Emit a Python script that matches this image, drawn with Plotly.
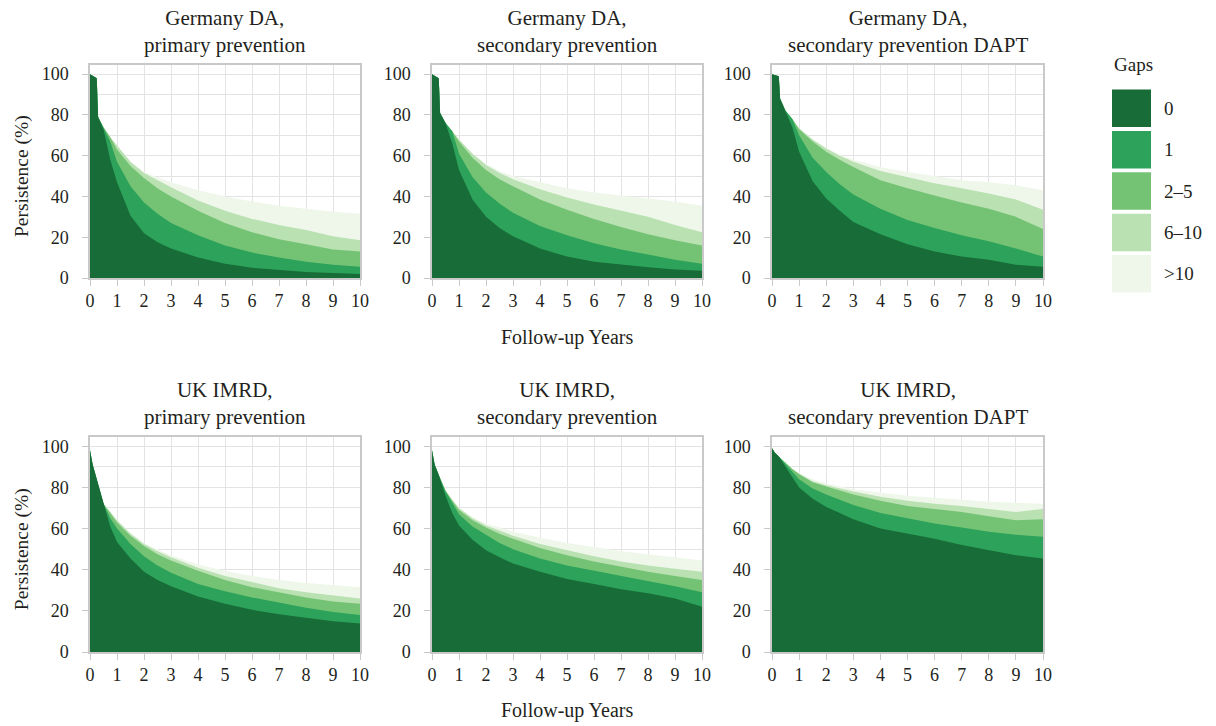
import plotly.graph_objects as go

W, H = 1216, 726
FONT = "'Liberation Serif', 'DejaVu Serif', 'Times New Roman', serif"
TEXT_COLOR = "#231f20"

# ---------------- data ----------------
gap_labels = ["0", "1", "2–5", "6–10", ">10"]
gap_colors = ["#176c37", "#2ca25a", "#74c374", "#b9e1b2", "#eef7ea"]

panel_titles = [
    "Germany DA,<br>primary prevention",
    "Germany DA,<br>secondary prevention",
    "Germany DA,<br>secondary prevention DAPT",
    "UK IMRD,<br>primary prevention",
    "UK IMRD,<br>secondary prevention",
    "UK IMRD,<br>secondary prevention DAPT",
]

years_de = [0, 0.25, 0.3, 0.5, 0.75, 1, 1.5, 2, 2.5, 3, 4, 5, 6, 7, 8, 9, 10]
years_uk = [0, 0.1, 0.25, 0.5, 0.75, 1, 1.5, 2, 2.5, 3, 4, 5, 6, 7, 8, 9, 10]

# persistence (%) allowing up to N gaps (upper boundary of each band)
de_prim_gap0 = [100, 98, 79, 73, 58, 47, 30.5, 22, 17.5, 14.5, 10, 7, 5, 4, 3, 2.5, 2]
de_prim_gap1 = [100, 98, 79, 74, 67, 57, 45, 37, 31.5, 27, 21, 16, 12.5, 10, 8, 6.5, 5.5]
de_prim_gap2_5 = [100, 98, 79, 74, 69, 63, 55, 49, 44, 40, 33, 27, 22.5, 19, 16.5, 14, 13]
de_prim_gap6_10 = [100, 98, 79, 74, 69, 65, 57, 51.5, 48, 44.5, 38, 33, 29, 26, 23.5, 20.5, 18.5]
de_prim_gap10p = [100, 98, 79, 74, 69, 65, 57, 52, 49.5, 47, 43, 40, 37.5, 35.5, 34, 32.5, 31.5]

de_sec_gap0 = [100, 98, 81, 76, 66, 53, 38.5, 30, 24.5, 20.5, 14.5, 10.5, 8, 6.5, 5.3, 4.2, 3.5]
de_sec_gap1 = [100, 98, 81, 76, 72, 61, 49.5, 42, 36.5, 32, 25.5, 21, 17, 14, 11.5, 9, 7]
de_sec_gap2_5 = [100, 98, 81, 76, 72, 67, 59, 53, 48.5, 45, 38.5, 33.5, 29, 25, 21.5, 18.5, 16]
de_sec_gap6_10 = [100, 98, 81, 76, 72, 68, 61, 55.5, 51.5, 48.5, 43.5, 39.5, 36, 33, 30, 26, 22.5]
de_sec_gap10p = [100, 98, 81, 76, 72, 68, 61, 56, 52.5, 50, 47, 44, 42, 40.5, 39, 37.5, 35.5]

de_dapt_gap0 = [100, 99, 88, 82, 74, 62, 47.5, 39, 33, 27.5, 21.5, 16.5, 13, 10.5, 9, 6.5, 5.5]
de_dapt_gap1 = [100, 99, 88, 82, 78, 70, 59, 52, 46, 41, 34, 28.5, 24.5, 21, 18, 14.5, 10.5]
de_dapt_gap2_5 = [100, 99, 88, 82, 78, 73, 67, 62, 58, 54.5, 48, 44, 40.5, 37, 34, 30, 24]
de_dapt_gap6_10 = [100, 99, 88, 82, 78, 73.5, 68, 63.5, 60, 57, 52.5, 49.5, 46.5, 44, 41.5, 38.5, 33.5]
de_dapt_gap10p = [100, 99, 88, 82, 78, 73.5, 68, 64, 60.5, 58, 54.5, 52, 50, 48, 47, 45.5, 43]

uk_prim_gap0 = [98, 91, 84, 72, 61, 53.5, 45.5, 39, 35, 32, 27, 23.5, 20.5, 18.3, 16.5, 15, 13.8]
uk_prim_gap1 = [98, 91, 84, 72, 65, 60, 52.5, 46.5, 42, 38.5, 33, 29.5, 26.5, 24, 21.5, 19.5, 18]
uk_prim_gap2_5 = [98, 91, 84, 72, 67.5, 63, 56.5, 51.5, 47.5, 44.5, 39.5, 35, 31.5, 29, 26.5, 24.5, 23.5]
uk_prim_gap6_10 = [98, 91, 84, 72, 68, 64, 57.5, 52.5, 49, 46, 41, 37, 34, 31, 29, 27.5, 26]
uk_prim_gap10p = [98, 91, 84, 72, 68, 64, 58, 53, 50, 47, 42.5, 39.5, 37, 35, 33.5, 32.5, 31.5]

uk_sec_gap0 = [98, 91, 86, 76, 67.5, 61.5, 54.5, 49.5, 46, 43, 39, 35.5, 33, 30.5, 28.5, 26, 22]
uk_sec_gap1 = [98, 91, 86, 78, 72.5, 67, 61, 57, 53, 50, 45.5, 42, 39.5, 37, 34.5, 32, 29]
uk_sec_gap2_5 = [98, 91, 86, 78.5, 73.5, 69, 64, 60.5, 57.5, 55, 50.5, 47, 44, 41.5, 39, 37, 35]
uk_sec_gap6_10 = [98, 91, 86, 78.5, 74, 70, 65, 61.5, 59, 56.5, 52.5, 49.5, 46.5, 44, 42, 40.5, 39]
uk_sec_gap10p = [98, 91, 86, 78.5, 74, 70, 65.5, 62.5, 60.5, 58.5, 55.5, 53, 51, 49, 47.5, 46, 44.5]

uk_dapt_gap0 = [99, 97, 95, 90, 85, 80, 74.5, 70.5, 67.5, 64.5, 60, 57.5, 55, 52, 49.5, 47, 45.5]
uk_dapt_gap1 = [99, 97, 95, 91.5, 87.5, 84, 79.5, 76.5, 74, 71.5, 67.5, 65, 62.5, 60.5, 58.5, 57, 56]
uk_dapt_gap2_5 = [99, 97, 95, 92, 89, 86.5, 82.5, 80.5, 78.5, 76.5, 73.5, 71, 69.5, 68, 66, 64, 64.5]
uk_dapt_gap6_10 = [99, 97, 95, 92, 89, 86.5, 83, 81, 79.5, 78, 75.5, 73.5, 72, 71, 69.5, 68, 69.5]
uk_dapt_gap10p = [99, 97, 95, 92, 89, 87, 84, 82, 80.5, 79, 77.5, 76, 75, 74, 73, 72.5, 72]

x_ticks = list(range(0, 11))
y_ticks = [0, 20, 40, 60, 80, 100]

panels = [
    (years_de, [de_prim_gap0, de_prim_gap1, de_prim_gap2_5, de_prim_gap6_10, de_prim_gap10p]),
    (years_de, [de_sec_gap0, de_sec_gap1, de_sec_gap2_5, de_sec_gap6_10, de_sec_gap10p]),
    (years_de, [de_dapt_gap0, de_dapt_gap1, de_dapt_gap2_5, de_dapt_gap6_10, de_dapt_gap10p]),
    (years_uk, [uk_prim_gap0, uk_prim_gap1, uk_prim_gap2_5, uk_prim_gap6_10, uk_prim_gap10p]),
    (years_uk, [uk_sec_gap0, uk_sec_gap1, uk_sec_gap2_5, uk_sec_gap6_10, uk_sec_gap10p]),
    (years_uk, [uk_dapt_gap0, uk_dapt_gap1, uk_dapt_gap2_5, uk_dapt_gap6_10, uk_dapt_gap10p]),
]

# ---------------- layout geometry (page pixels) ----------------
col_px = [(90, 360), (432, 702), (772, 1043)]
row_px = [(65, 278), (437, 652)]  # (top, bottom)


def fx(p):
    return p / W


def fy(p):
    return 1 - p / H


fig = go.Figure()

for i, (yrs, curves) in enumerate(panels):
    n = i + 1
    xa = "x" if n == 1 else f"x{n}"
    ya = "y" if n == 1 else f"y{n}"
    for k in reversed(range(len(gap_labels))):
        fig.add_trace(go.Scatter(
            x=yrs, y=curves[k], mode="lines",
            line=dict(width=0, color=gap_colors[k]),
            fill="tozeroy", fillcolor=gap_colors[k],
            xaxis=xa, yaxis=ya, showlegend=False, hoverinfo="skip",
        ))

grid_c = "#e3e3e3"
line_c = "#c9c9c9"
tickfont = dict(family=FONT, size=18, color=TEXT_COLOR)

layout = dict(
    width=W, height=H,
    margin=dict(l=0, r=0, t=0, b=0, autoexpand=False),
    paper_bgcolor="white", plot_bgcolor="white",
    font=dict(family=FONT, color=TEXT_COLOR),
    showlegend=False,
)

annotations = []
shapes = []

for i in range(6):
    n = i + 1
    r, c = divmod(i, 3)
    x0, x1 = col_px[c]
    top, bot = row_px[r]
    xkey = "xaxis" if n == 1 else f"xaxis{n}"
    ykey = "yaxis" if n == 1 else f"yaxis{n}"
    ya = "y" if n == 1 else f"y{n}"
    xa = "x" if n == 1 else f"x{n}"
    layout[xkey] = dict(
        domain=[fx(x0), fx(x1)], anchor=ya, range=[0, 10], automargin=False,
        tickvals=x_ticks, showgrid=True, gridcolor=grid_c, gridwidth=1,
        zeroline=False, showline=True, linecolor=line_c, linewidth=1.5, mirror=True,
        ticks="outside", ticklen=6, tickcolor=line_c, tickfont=tickfont,
        fixedrange=True,
    )
    layout[ykey] = dict(
        domain=[fy(bot), fy(top)], anchor=xa, range=[0, 104.5], automargin=False,
        tickvals=y_ticks, showgrid=True, gridcolor=grid_c, gridwidth=1,
        minor=dict(dtick=10, tick0=0, showgrid=True, gridcolor=grid_c, ticks=""),
        zeroline=False, showline=True, linecolor=line_c, linewidth=1.5, mirror=True,
        ticks="outside", ticklen=6, tickcolor=line_c, tickfont=tickfont,
        ticklabelstandoff=10,
        fixedrange=True,
    )
    # panel title
    title_y = 31.5 if r == 0 else 403
    annotations.append(dict(
        text=panel_titles[i], xref="paper", yref="paper",
        x=fx((x0 + x1) / 2), y=fy(title_y), xanchor="center", yanchor="middle",
        showarrow=False, font=dict(family=FONT, size=21, color=TEXT_COLOR),
    ))
    if c == 0:
        annotations.append(dict(
            text="Persistence (%)", xref="paper", yref=ya,
            x=fx(22), y=50, xanchor="center", yanchor="middle", textangle=-90,
            showarrow=False, font=dict(family=FONT, size=19.5, color=TEXT_COLOR),
        ))

for yp in (338, 710):
    annotations.append(dict(
        text="Follow-up Years", xref="paper", yref="paper",
        x=fx(567), y=fy(yp), xanchor="center", yanchor="middle",
        showarrow=False, font=dict(family=FONT, size=20, color=TEXT_COLOR),
    ))

# legend (drawn manually to get large colour boxes)
annotations.append(dict(
    text="Gaps", xref="paper", yref="paper", x=fx(1133), y=fy(65),
    xanchor="center", yanchor="middle", showarrow=False,
    font=dict(family=FONT, size=19, color=TEXT_COLOR),
))
box_top, box_h, box_step = 89.5, 37.5, 41.4
for k, lab in enumerate(gap_labels):
    t = box_top + k * box_step
    shapes.append(dict(
        type="rect", xref="paper", yref="paper",
        x0=fx(1112), x1=fx(1151), y0=fy(t + box_h), y1=fy(t),
        fillcolor=gap_colors[k], line=dict(width=0),
    ))
    annotations.append(dict(
        text=lab, xref="paper", yref="paper", x=fx(1162), y=fy(t + box_h / 2),
        xanchor="left", yanchor="middle", showarrow=False,
        font=dict(family=FONT, size=19, color=TEXT_COLOR),
    ))

layout["annotations"] = annotations
layout["shapes"] = shapes
fig.update_layout(**layout)

# remove the browser's default 8px body margin so the figure fills the page
fig.write_html(
    "out.html",
    config={"displayModeBar": False},
    post_script="document.body.style.margin='0px';document.body.style.overflow='hidden';",
)
